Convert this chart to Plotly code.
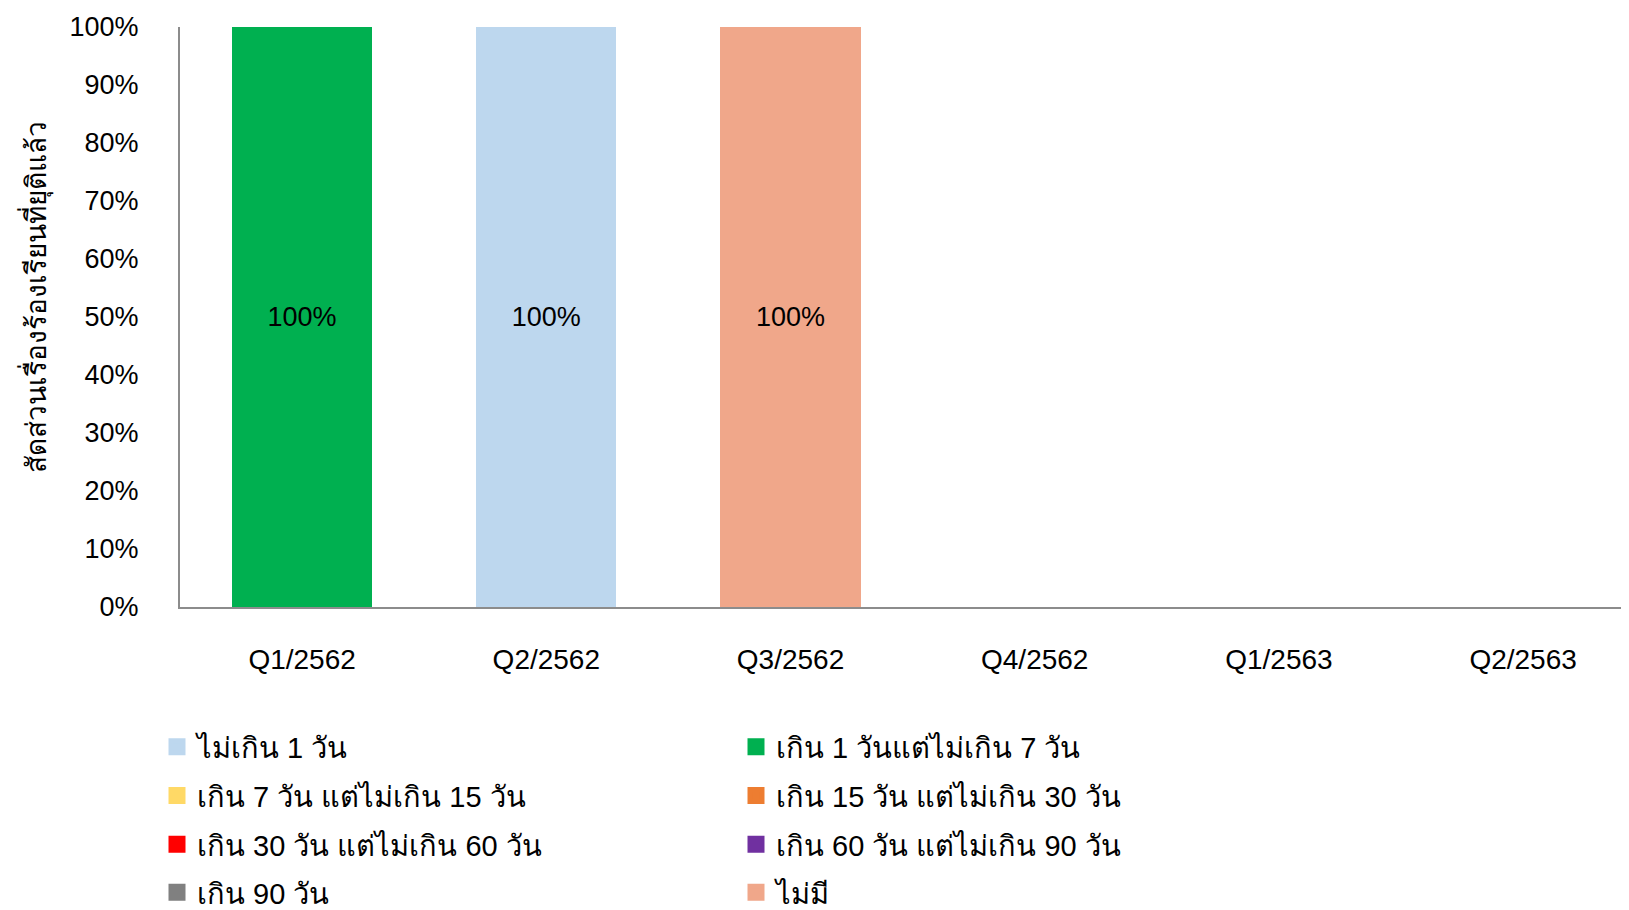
import plotly.graph_objects as go

categories = ["Q1/2562", "Q2/2562", "Q3/2562", "Q4/2562", "Q1/2563", "Q2/2563"]

series_names = [
    "ไม่เกิน 1 วัน",
    "เกิน 1 วันแต่ไม่เกิน 7 วัน",
    "เกิน 7 วัน แต่ไม่เกิน 15 วัน",
    "เกิน 15 วัน แต่ไม่เกิน 30 วัน",
    "เกิน 30 วัน แต่ไม่เกิน 60 วัน",
    "เกิน 60 วัน แต่ไม่เกิน 90 วัน",
    "เกิน 90 วัน",
    "ไม่มี",
]

# share of closed complaints (fraction); None = no value shown
s_le1 = [None, 1.0, None, None, None, None]
s_1_7 = [1.0, None, None, None, None, None]
s_7_15 = [None, None, None, None, None, None]
s_15_30 = [None, None, None, None, None, None]
s_30_60 = [None, None, None, None, None, None]
s_60_90 = [None, None, None, None, None, None]
s_gt90 = [None, None, None, None, None, None]
s_none = [None, None, 1.0, None, None, None]

series_values = [s_le1, s_1_7, s_7_15, s_15_30, s_30_60, s_60_90, s_gt90, s_none]

colors = ["#BDD7EE", "#00B050", "#FFD966", "#ED7D31", "#FF0000", "#7030A0", "#808080", "#F0A78A"]

y_title = "สัดส่วนเรื่องร้องเรียนที่ยุติแล้ว"

W, H = 1629, 910
L, R, T, B = 172, 0, 19, 308
plot_w = W - L - R
plot_h = H - T - B
slot = 244.2
plot_bottom = H - B

FONT = "Liberation Sans, Arial, sans-serif"

fig = go.Figure()
for i, (name, vals, col) in enumerate(zip(series_names, series_values, colors)):
    txt = [f"{v*100:.0f}%" if (v is not None and v > 0) else "" for v in vals]
    lg = "legend" if i // 2 == 0 else f"legend{i // 2 + 1}"
    fig.add_trace(go.Bar(
        x=categories, y=vals, name=name, legend=lg,
        marker=dict(color=col, line=dict(width=5, color=col)),
        text=txt, textposition="inside", insidetextanchor="middle", textangle=0,
        textfont=dict(family=FONT, size=27, color="black"),
        hoverinfo="skip",
    ))

x_max = -0.5 + plot_w / slot

row_tops = [717, 766, 815, 864]
legend_x = (149 - L) / plot_w
legend_common = dict(
    orientation="h", traceorder="normal", x=legend_x, xanchor="left",
    yanchor="top", entrywidth=534, entrywidthmode="pixels",
    font=dict(family=FONT, size=29, color="black"), itemclick=False, itemdoubleclick=False,
    bgcolor="rgba(0,0,0,0)",
)
legends = {}
for k, top in enumerate(row_tops):
    key = "legend" if k == 0 else f"legend{k + 1}"
    legends[key] = dict(legend_common, y=-(top - plot_bottom) / plot_h)

fig.update_layout(
    width=W, height=H,
    barmode="stack", bargap=0.447,
    plot_bgcolor="white", paper_bgcolor="white",
    margin=dict(l=L, r=R, t=T, b=B),
    font=dict(family=FONT, size=27, color="black"),
    xaxis=dict(
        range=[-0.5, x_max], showline=True, linecolor="#8C8C8C", linewidth=2,
        showgrid=False, ticks="", ticklabelstandoff=26,
        tickfont=dict(size=28, color="black"), zeroline=False,
    ),
    yaxis=dict(
        range=[0, 1], dtick=0.1, tickformat=".0%", showline=True, linecolor="#8C8C8C",
        linewidth=2, showgrid=False, ticks="", ticklabelstandoff=34, zeroline=False,
        tickfont=dict(size=27, color="black"),
    ),
    annotations=[dict(
        text=y_title, textangle=-90, xref="paper", yref="paper",
        x=(28 - L) / plot_w, y=(plot_bottom - 290) / plot_h,
        xanchor="center", yanchor="middle", showarrow=False,
        font=dict(family=FONT, size=28, color="black"),
    )],
    showlegend=True,
    **legends,
)

fig.write_html("out.html")
